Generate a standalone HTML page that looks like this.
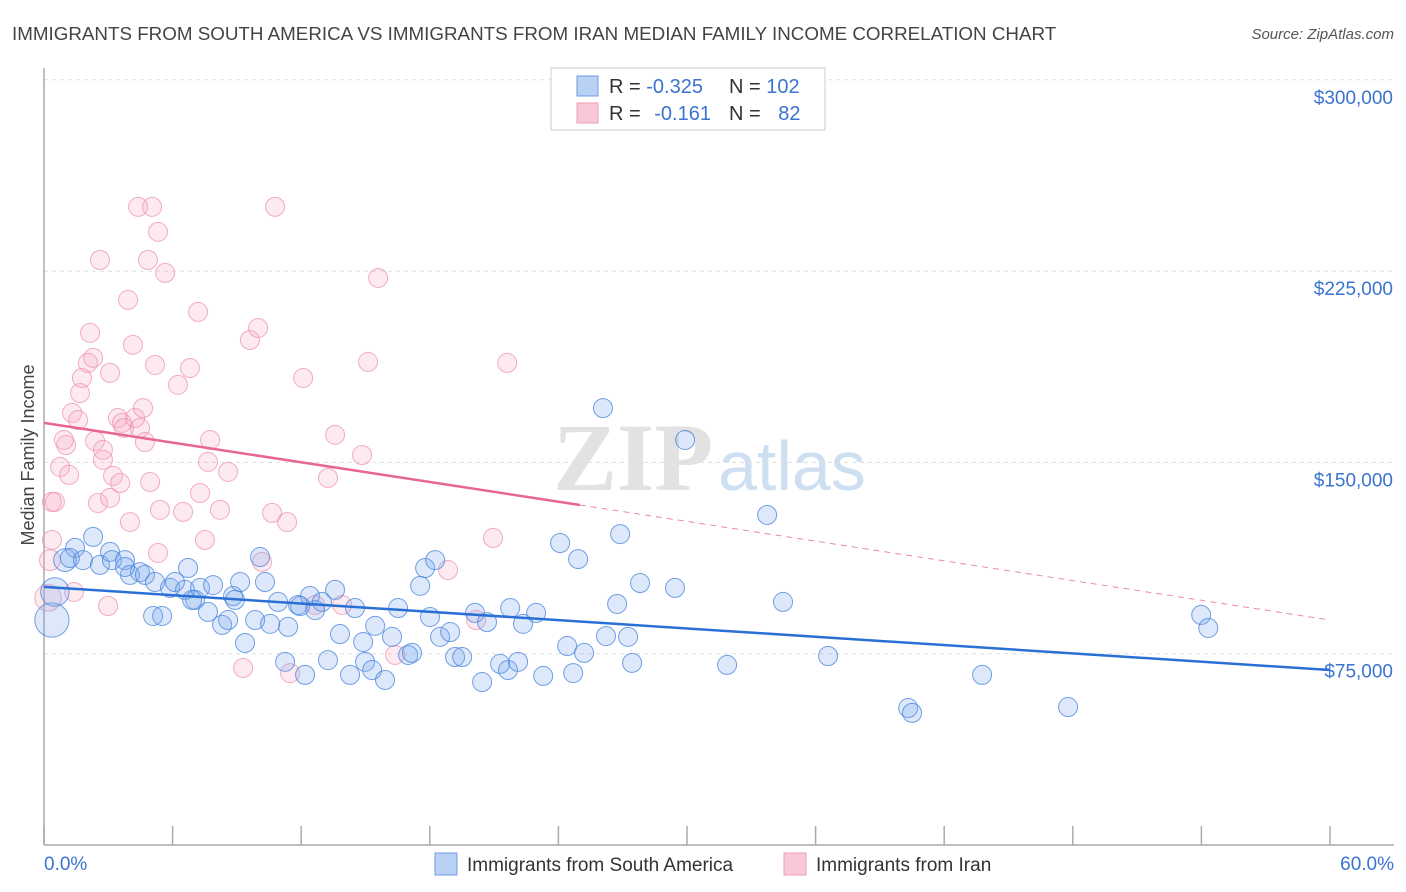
<!DOCTYPE html>
<html><head><meta charset="utf-8"><style>
body{margin:0;background:#fff}
svg{display:block;font-family:"Liberation Sans",sans-serif}
</style></head><body>
<svg id="chart" width="1406" height="892" viewBox="0 0 1406 892" xmlns="http://www.w3.org/2000/svg">
<text x="12" y="40" font-size="18.8" fill="#444">IMMIGRANTS FROM SOUTH AMERICA VS IMMIGRANTS FROM IRAN MEDIAN FAMILY INCOME CORRELATION CHART</text>
<text x="1394" y="39" font-size="15" fill="#555" font-style="italic" text-anchor="end">Source: ZipAtlas.com</text>
<g>
<text x="553" y="490" font-family="Liberation Serif,serif" font-weight="bold" font-size="96" fill="#e2e2e2">ZIP</text>
<text x="718" y="490" font-size="70" fill="#cfdff2">atlas</text>
</g>
<g id="grid"></g>
<g id="axes"></g>
<g id="pts"></g>
<g id="trends"></g>
<text transform="translate(34,455) rotate(-90)" font-size="18" fill="#444" text-anchor="middle">Median Family Income</text>
<text x="44" y="870" font-size="19" fill="#3b73d1">0.0%</text>
<text x="1394" y="870" font-size="19" fill="#3b73d1" text-anchor="end">60.0%</text>
<g>
<rect x="551" y="68" width="274" height="62" fill="#fff" stroke="#ccc"/>
<rect x="577" y="76" width="21" height="20" fill="#b9d2f3" stroke="#6b9be0"/>
<rect x="577" y="103" width="21" height="20" fill="#f9c8d6" stroke="#ee9fb8"/>
<text x="609" y="93" font-size="20" fill="#333">R = <tspan fill="#3b73d1">-0.325</tspan></text>
<text x="729" y="93" font-size="20" fill="#333">N = <tspan fill="#3b73d1">102</tspan></text>
<text x="609" y="120" font-size="20" fill="#333">R = <tspan fill="#3b73d1" dx="8">-0.161</tspan></text>
<text x="729" y="120" font-size="20" fill="#333">N = <tspan fill="#3b73d1" dx="12">82</tspan></text>
</g>
<g>
<rect x="435" y="853" width="22" height="22" fill="#b9d2f3" stroke="#6b9be0"/>
<text x="467" y="871" font-size="19" fill="#333">Immigrants from South America</text>
<rect x="784" y="853" width="22" height="22" fill="#f9c8d6" stroke="#ee9fb8"/>
<text x="816" y="871" font-size="19" fill="#333">Immigrants from Iran</text>
</g>
</svg>
<script>
const yTicks=[75,150,225,300];
const yTickLabels=["$75,000","$150,000","$225,000","$300,000"];
const xTicks=[0,6,12,18,24,30,36,42,48,54,60];
const blueData=[[0.37,88.2],[0.51,99.2],[0.98,111.7],[1.45,116.5],[1.21,112.5],[2.29,120.8],[1.82,111.7],[2.61,109.8],[3.08,114.9],[3.17,111.7],[3.78,111.7],[4.01,105.9],[4.48,107.0],[4.71,105.9],[3.78,109.0],[5.18,103.1],[5.09,89.8],[5.51,89.8],[5.88,100.8],[6.11,103.1],[6.58,100.0],[6.72,108.6],[7.05,96.1],[7.28,100.8],[7.65,91.4],[7.89,101.9],[8.31,86.3],[8.59,88.2],[8.82,97.6],[9.15,103.1],[9.38,79.2],[9.85,88.2],[10.08,112.9],[10.31,103.1],[10.55,86.7],[10.92,95.3],[11.39,85.5],[11.25,71.8],[11.85,94.1],[12.18,66.7],[12.41,97.6],[12.65,92.1],[12.97,95.3],[13.25,72.5],[13.58,100.0],[13.81,82.7],[14.28,66.7],[14.51,92.9],[14.89,79.6],[14.98,71.8],[15.31,68.6],[15.45,85.9],[15.91,64.7],[16.24,81.6],[16.52,92.9],[16.99,74.5],[17.17,75.3],[17.55,101.6],[17.78,108.6],[18.01,89.4],[18.25,111.7],[18.48,81.6],[18.95,83.5],[19.18,73.7],[19.51,73.7],[20.11,91.0],[20.44,63.9],[20.67,87.4],[21.28,71.0],[21.65,68.6],[21.75,92.9],[22.12,71.8],[22.35,86.7],[22.96,91.0],[23.29,66.3],[24.08,118.4],[24.41,78.0],[24.69,67.4],[24.92,112.1],[25.20,75.3],[26.08,171.3],[26.22,81.9],[26.74,94.5],[26.88,121.9],[27.25,81.6],[27.44,71.4],[27.81,102.7],[29.44,100.8],[29.91,158.8],[31.87,70.6],[33.74,129.4],[34.48,95.3],[36.58,74.1],[40.32,53.7],[40.50,51.8],[43.77,66.7],[47.78,54.1],[53.99,90.2],[54.32,85.1],[8.91,96.1],[6.91,96.1],[11.95,93.7]];
const blueWeight=[1.8,1.5,1.2];
const pinkData=[[0.37,134.5],[0.51,134.5],[0.37,119.6],[0.28,111.7],[0.19,96.9],[1.40,99.2],[0.75,148.2],[1.03,156.8],[0.93,158.8],[1.17,145.1],[1.31,169.4],[1.59,166.6],[1.68,177.2],[1.77,183.1],[2.05,189.0],[2.15,200.8],[2.29,191.0],[2.38,158.4],[2.52,134.1],[2.61,229.4],[2.75,154.9],[2.75,151.0],[2.99,93.7],[3.08,185.1],[3.08,136.1],[3.22,144.7],[3.45,167.4],[3.55,141.9],[3.64,165.5],[3.73,163.5],[3.92,213.7],[4.01,126.6],[4.15,196.1],[4.25,167.4],[4.39,250.2],[4.48,163.5],[4.62,171.3],[4.71,158.0],[4.85,229.4],[4.95,142.3],[5.04,250.2],[5.18,188.2],[5.32,114.5],[5.32,240.4],[5.41,131.4],[5.65,224.3],[6.25,180.4],[6.49,130.6],[6.81,187.0],[7.19,209.0],[7.28,138.0],[7.51,119.6],[7.65,150.2],[7.75,158.8],[8.21,131.4],[8.59,146.3],[9.29,69.4],[9.61,198.0],[9.99,202.7],[10.17,111.0],[10.64,130.2],[10.78,250.2],[11.34,126.6],[11.48,67.4],[12.09,183.1],[12.65,94.1],[13.25,143.9],[13.58,160.8],[13.91,94.1],[14.84,152.9],[15.12,189.4],[15.59,222.3],[16.38,74.5],[18.85,107.8],[20.16,88.2],[20.95,120.4],[21.61,189.0]];
const pinkWeight=[1,1,1,1.1,1.4];
const blueTrend=[[0,101.2],[60,68.6]];
const pinkTrendSolid=[[0,165.5],[25,133.3]];
const pinkTrendDash=[[25,133.3],[60,88.2]];

const NS="http://www.w3.org/2000/svg";
const X=p=>44+p*1286/60;
const Y=v=>845-v*191.3/75;
function mk(t,a,parent){const e=document.createElementNS(NS,t);for(const k in a)e.setAttribute(k,a[k]);parent.appendChild(e);return e;}
const grid=document.getElementById('grid'),axes=document.getElementById('axes'),pts=document.getElementById('pts'),tr=document.getElementById('trends');
yTicks.forEach((v,i)=>{
  const l=mk('line',{x1:44,x2:1394,y1:Y(v),y2:Y(v),stroke:'#ddd','stroke-dasharray':'4,4'},grid);
  
  
  const t=mk('text',{x:1393,y:Y(v)+24,'font-size':19,fill:'#3b73d1','text-anchor':'end'},grid);
  t.textContent=yTickLabels[i];
  
  
});
mk('line',{x1:44,x2:44,y1:68,y2:845,stroke:'#aaa','stroke-width':1.5},axes);
mk('line',{x1:44,x2:1394,y1:845,y2:845,stroke:'#aaa','stroke-width':1.5},axes);
xTicks.forEach(p=>{
  const t=mk('line',{x1:X(p),x2:X(p),y1:826,y2:845,stroke:'#aaa','stroke-width':1.5},axes);
  
  
});
function drawPts(data,w,fill,stroke,name){
  data.forEach((d,i)=>{
    const r=9.5*(w[i]||1);
    const c=mk('circle',{cx:X(d[0]),cy:Y(d[1]),r:r,fill:fill,stroke:stroke,'stroke-width':1},pts);
    
    
  });
}
drawPts(pinkData,pinkWeight,'rgba(246,170,196,0.25)','rgba(236,140,170,0.7)','point-iran');
drawPts(blueData,blueWeight,'rgba(120,168,235,0.25)','rgba(70,130,220,0.75)','point-south-america');
function line(s,stroke,w,dash,name){
  const a={x1:X(s[0][0]),y1:Y(s[0][1]),x2:X(s[1][0]),y2:Y(s[1][1]),stroke:stroke,'stroke-width':w};
  if(dash)a['stroke-dasharray']=dash;
  const l=mk('line',a,tr);
  
  
}
line(blueTrend,'#2a6fd6',2.5,null,'trend-south-america');
line(pinkTrendSolid,'#e8668f',2.5,null,'trend-iran');
line(pinkTrendDash,'#eb8aa8',1,'6,5','trend-iran-extrapolated');
</script>
</body></html>
